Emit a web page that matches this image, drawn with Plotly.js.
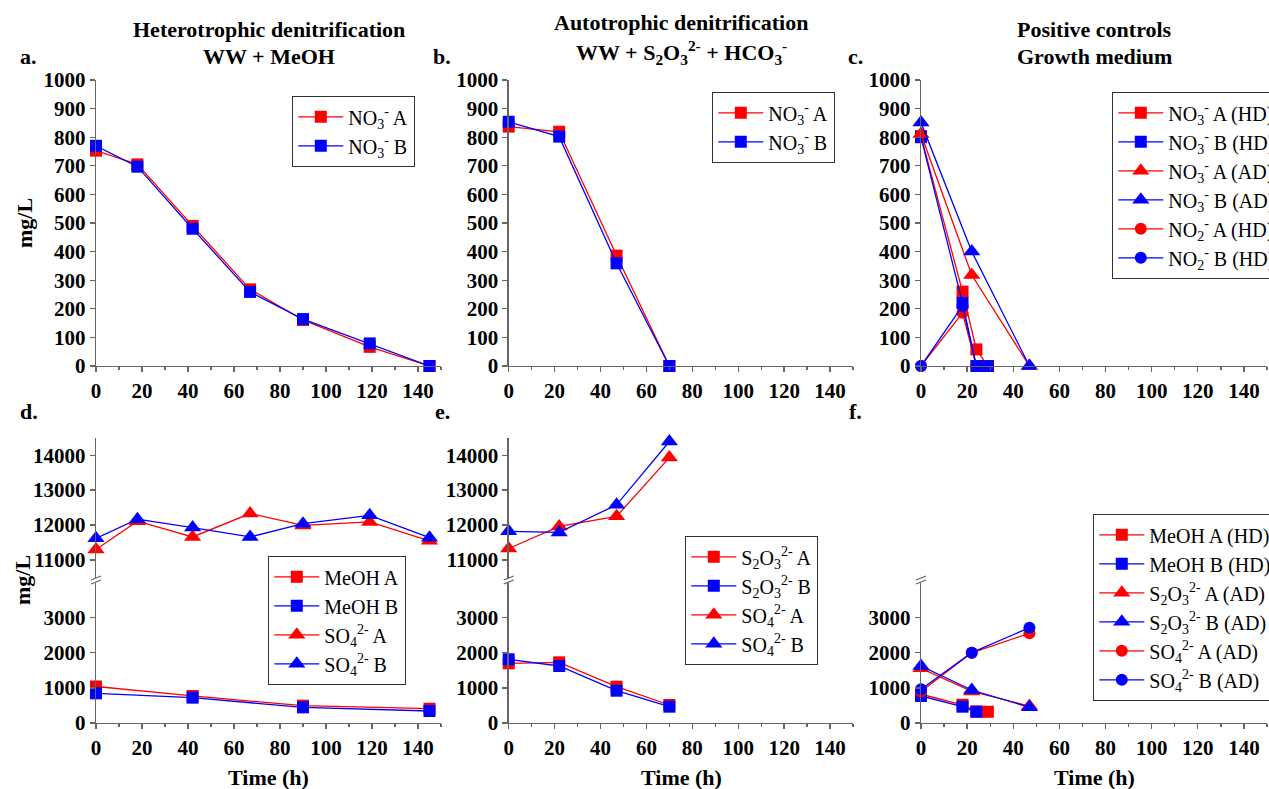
<!DOCTYPE html>
<html>
<head>
<meta charset="utf-8">
<script src="https://cdn.plot.ly/plotly-3.0.1.min.js"></script>
<style>html,body{margin:0;padding:0;background:#fff;}#chart{width:1269px;height:789px;}</style>
</head>
<body>
<div id="chart"></div>
<script>
// ---------- DATA ----------
// Panel a: heterotrophic denitrification, nitrate
const tA = [0, 18, 42, 67, 90, 119, 145];
const no3A_a = [753, 705, 490, 268, 161, 67, 0];
const no3B_a = [770, 697, 480, 259, 164, 79, 0];
// Panel b: autotrophic denitrification, nitrate
const tB = [0, 22, 47, 70];
const no3A_b = [837, 819, 386, 0];
const no3B_b = [854, 802, 359, 0];
// Panel c: positive controls
const tHD = [0, 18, 24, 29];
const tAD = [0, 22, 47];
const no3A_HD = [804, 260, 58, 0];
const no3B_HD = [800, 220, 0, 0];
const no3A_AD = [811, 318, 0];
const no3B_AD = [851, 400, 0];
const no2A_HD = [0, 186, 0, 0];
const no2B_HD = [0, 210, 0, 0];
// Panel d
const tMeOH_d = [0, 42, 90, 145];
const meohA_d = [1040, 770, 494, 407];
const meohB_d = [845, 722, 446, 342];
const so4A_d = [11300, 12110, 11660, 12330, 11990, 12090, 11550];
const so4B_d = [11620, 12170, 11930, 11660, 12040, 12280, 11640];
// Panel e
const tE = [0, 22, 47, 70];
const s2o3A_e = [1700, 1728, 1035, 513];
const s2o3B_e = [1815, 1624, 920, 465];
const so4A_e = [11330, 11960, 12250, 13930];
const so4B_e = [11820, 11790, 12580, 14390];
// Panel f
const tMeOHB_f = [0, 18, 24];
const meohA_f = [820, 520, 330, 320];
const meohB_f = [770, 465, 320];
const s2o3A_f = [1560, 900, 484];
const s2o3B_f = [1624, 940, 447];
const so4A_f = [900, 2000, 2555];
const so4B_f = [960, 2003, 2716];

// tick labels
const xTicks = [0, 20, 40, 60, 80, 100, 120, 140];
const yTopTicks = [0, 100, 200, 300, 400, 500, 600, 700, 800, 900, 1000];
const yLowTicks = [0, 1000, 2000, 3000];
const yUpTicks = [11000, 12000, 13000, 14000];

// ---------- STYLE ----------
const W = 1269, H = 789;
const RED = '#ff0000', BLUE = '#0000ff';
const FONT = 'Liberation Serif';
const px = v => v / W;
const py = v => 1 - v / H;

function tr(x, y, name, color, symbol, xa, ya, lg) {
  return {
    x: x, y: y, name: name, type: 'scatter', mode: 'lines+markers',
    xaxis: xa, yaxis: ya, legend: lg, cliponaxis: false,
    line: {color: color, width: 1.3},
    marker: {color: color, symbol: symbol, size: symbol === 'triangle-up' ? 15 : 12, line: {width: 0}}
  };
}
const NO3 = 'NO<sub>3</sub><sup>-</sup>';
const NO2 = 'NO<sub>2</sub><sup>-</sup>';
const S2O3 = 'S<sub>2</sub>O<sub>3</sub><sup>2-</sup>';
const SO4 = 'SO<sub>4</sub><sup>2-</sup>';

const data = [
  tr(tA, no3A_a, NO3 + ' A', RED, 'square', 'x', 'y', 'legend'),
  tr(tA, no3B_a, NO3 + ' B', BLUE, 'square', 'x', 'y', 'legend'),
  tr(tB, no3A_b, NO3 + ' A', RED, 'square', 'x2', 'y2', 'legend2'),
  tr(tB, no3B_b, NO3 + ' B', BLUE, 'square', 'x2', 'y2', 'legend2'),
  tr(tHD, no3A_HD, NO3 + ' A (HD)', RED, 'square', 'x3', 'y3', 'legend3'),
  tr(tHD, no3B_HD, NO3 + ' B (HD)', BLUE, 'square', 'x3', 'y3', 'legend3'),
  tr(tAD, no3A_AD, NO3 + ' A (AD)', RED, 'triangle-up', 'x3', 'y3', 'legend3'),
  tr(tAD, no3B_AD, NO3 + ' B (AD)', BLUE, 'triangle-up', 'x3', 'y3', 'legend3'),
  tr(tHD, no2A_HD, NO2 + ' A (HD)', RED, 'circle', 'x3', 'y3', 'legend3'),
  tr(tHD, no2B_HD, NO2 + ' B (HD)', BLUE, 'circle', 'x3', 'y3', 'legend3'),
  tr(tMeOH_d, meohA_d, 'MeOH A', RED, 'square', 'x4', 'y4', 'legend4'),
  tr(tMeOH_d, meohB_d, 'MeOH B', BLUE, 'square', 'x4', 'y4', 'legend4'),
  tr(tA, so4A_d, SO4 + ' A', RED, 'triangle-up', 'x4', 'y7', 'legend4'),
  tr(tA, so4B_d, SO4 + ' B', BLUE, 'triangle-up', 'x4', 'y7', 'legend4'),
  tr(tE, s2o3A_e, S2O3 + ' A', RED, 'square', 'x5', 'y5', 'legend5'),
  tr(tE, s2o3B_e, S2O3 + ' B', BLUE, 'square', 'x5', 'y5', 'legend5'),
  tr(tE, so4A_e, SO4 + ' A', RED, 'triangle-up', 'x5', 'y8', 'legend5'),
  tr(tE, so4B_e, SO4 + ' B', BLUE, 'triangle-up', 'x5', 'y8', 'legend5'),
  tr(tHD, meohA_f, 'MeOH A (HD)', RED, 'square', 'x6', 'y6', 'legend6'),
  tr(tMeOHB_f, meohB_f, 'MeOH B (HD)', BLUE, 'square', 'x6', 'y6', 'legend6'),
  tr(tAD, s2o3A_f, S2O3 + ' A (AD)', RED, 'triangle-up', 'x6', 'y6', 'legend6'),
  tr(tAD, s2o3B_f, S2O3 + ' B (AD)', BLUE, 'triangle-up', 'x6', 'y6', 'legend6'),
  tr(tAD, so4A_f, SO4 + ' A (AD)', RED, 'circle', 'x6', 'y6', 'legend6'),
  tr(tAD, so4B_f, SO4 + ' B (AD)', BLUE, 'circle', 'x6', 'y6', 'legend6')
];

const AXC = '#666666';
const tickFont = {family: FONT, size: 21, color: '#000', weight: 'bold'};
function xax(l, r, anchor) {
  return {domain: [px(l), px(r)], range: [0, 150], anchor: anchor,
    tickvals: xTicks, tickformat: 'd', showline: true, linecolor: AXC, linewidth: 1.3,
    ticks: 'outside', ticklen: 5, tickwidth: 1.3, tickcolor: AXC,
    minor: {tickvals: [10, 30, 50, 70, 90, 110, 130, 150], ticks: 'outside', ticklen: 3, tickcolor: AXC, tickwidth: 1.3},
    showgrid: false, zeroline: false, tickfont: tickFont, fixedrange: true};
}
function yax(bot, top, range, ticks, anchor) {
  return {domain: [py(bot), py(top)], range: range, anchor: anchor,
    tickvals: ticks, tickformat: 'd', showline: true, linecolor: AXC, linewidth: 1.3,
    ticks: 'outside', ticklen: 5, tickwidth: 1.3, tickcolor: AXC,
    showgrid: false, zeroline: false, tickfont: tickFont, fixedrange: true};
}
const XA = [96, 441], XB = [508.7, 853], XC = [921, 1267];
const TOP = [366, 80], LOW = [723, 582.6], UP = [577.5, 437.7];

function legend(l, t) {
  return {x: px(l), y: py(t), xanchor: 'left', yanchor: 'top',
    bgcolor: '#fff', bordercolor: '#333', borderwidth: 1.3,
    font: {family: FONT, size: 20, color: '#000'}, itemwidth: 45,
    tracegroupgap: 0};
}

const titleFont = {family: FONT, size: 22, color: '#000', weight: 'bold'};
function ann(x, y, text, extra) {
  return Object.assign({x: px(x), y: py(y), xref: 'paper', yref: 'paper', text: text,
    showarrow: false, font: titleFont, xanchor: 'center', yanchor: 'middle'}, extra || {});
}

const annotations = [
  ann(268.5, 29, 'Heterotrophic denitrification'),
  ann(268.5, 57, 'WW + MeOH'),
  ann(681, 22, 'Autotrophic denitrification'),
  ann(681, 53, 'WW + ' + S2O3 + ' + HCO<sub>3</sub><sup>-</sup>'),
  ann(1094, 29, 'Positive controls'),
  ann(1094, 57, 'Growth medium'),
  ann(29, 57, 'a.'),
  ann(442, 57, 'b.'),
  ann(855, 57, 'c.'),
  ann(29, 412, 'd.'),
  ann(442, 412, 'e.'),
  ann(855, 412, 'f.'),
  ann(24, 223, 'mg/L', {textangle: -90}),
  ann(22, 580, 'mg/L', {textangle: -90}),
  ann(268.5, 777, 'Time (h)'),
  ann(681, 777, 'Time (h)'),
  ann(1094, 777, 'Time (h)')
];

// axis-break marks
const shapes = [];
[XA[0], XB[0], XC[0]].forEach(function (x0) {
  [0, -4].forEach(function (dy) {
    shapes.push({type: 'line', xref: 'paper', yref: 'paper',
      x0: px(x0 - 5), y0: py(584 + dy), x1: px(x0 + 5), y1: py(580 + dy),
      line: {color: AXC, width: 1.2}});
  });
});

const layout = {
  width: W, height: H,
  margin: {l: 0, r: 0, t: 0, b: 0, autoexpand: false},
  paper_bgcolor: '#fff', plot_bgcolor: 'rgba(0,0,0,0)',
  font: {family: FONT, color: '#000'},
  xaxis: xax(XA[0], XA[1], 'y'),
  xaxis2: xax(XB[0], XB[1], 'y2'),
  xaxis3: xax(XC[0], XC[1], 'y3'),
  xaxis4: xax(XA[0], XA[1], 'y4'),
  xaxis5: xax(XB[0], XB[1], 'y5'),
  xaxis6: xax(XC[0], XC[1], 'y6'),
  yaxis: yax(TOP[0], TOP[1], [0, 1000], yTopTicks, 'x'),
  yaxis2: yax(TOP[0], TOP[1], [0, 1000], yTopTicks, 'x2'),
  yaxis3: yax(TOP[0], TOP[1], [0, 1000], yTopTicks, 'x3'),
  yaxis4: yax(LOW[0], LOW[1], [0, 4000], yLowTicks, 'x4'),
  yaxis5: yax(LOW[0], LOW[1], [0, 4000], yLowTicks, 'x5'),
  yaxis6: yax(LOW[0], LOW[1], [0, 4000], yLowTicks, 'x6'),
  yaxis7: yax(UP[0], UP[1], [10500, 14500], yUpTicks, 'x4'),
  yaxis8: yax(UP[0], UP[1], [10500, 14500], yUpTicks, 'x5'),
  yaxis9: yax(UP[0], UP[1], [10500, 14500], yUpTicks, 'x6'),
  legend: legend(292, 96),
  legend2: legend(712, 92),
  legend3: legend(1112, 92),
  legend4: legend(268, 556),
  legend5: legend(685, 536),
  legend6: legend(1093, 514),
  annotations: annotations,
  shapes: shapes,
  showlegend: true
};

Plotly.newPlot('chart', data, layout, {staticPlot: true, displayModeBar: false});
</script>
</body>
</html>
